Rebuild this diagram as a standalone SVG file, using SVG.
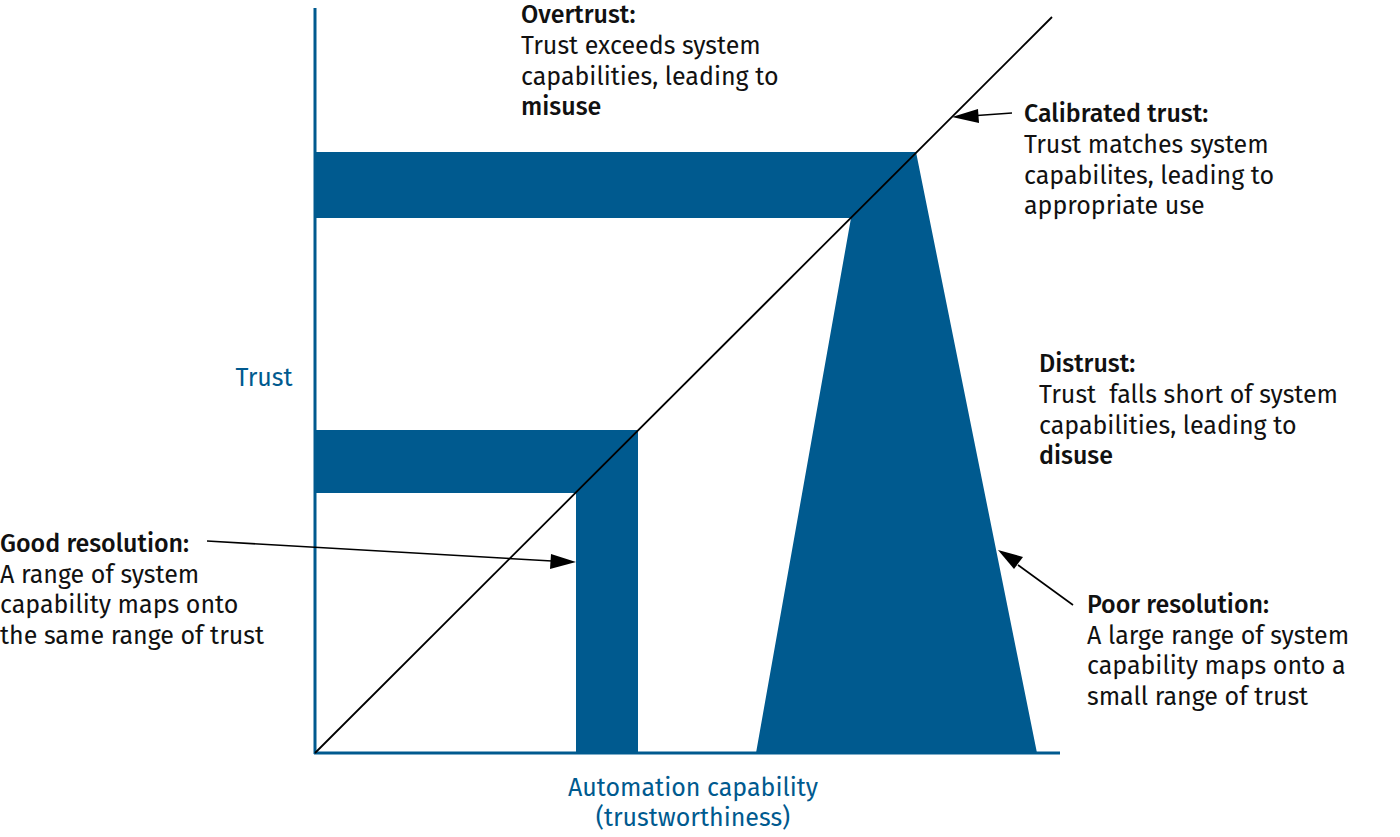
<svg xmlns="http://www.w3.org/2000/svg" width="1400" height="837" viewBox="0 0 1400 837">
<style>
text{font-family:"Fira Sans","Open Sans","Noto Sans",sans-serif;font-size:25px;fill:#111}
.b{font-weight:500}
.ax{fill:#005a8f;font-size:25px}
.blue{fill:#005a8f}
.axis{stroke:#005a8f;stroke-width:3;fill:none}
.conn{stroke:#000;stroke-width:1.6;fill:none}
</style>
<g id="shapes">
<polygon class="blue" points="315,152 916,152 1037,753 756,753 851,218 315,218"/>
<polygon class="blue" points="315,430 638,430 638,753 576,753 576,493 315,493"/>
</g>
<g id="axes">
<line class="axis" x1="315" y1="8" x2="315" y2="754"/>
<line class="axis" x1="314" y1="753" x2="1060" y2="753"/>
</g>
<g id="connectors">
<line x1="315" y1="753" x2="1052" y2="17" stroke="#000" stroke-width="1.8"/>
<path class="conn" d="M1012,113 L977,115.5" />
<polygon points="952,117 978,109 979,123" fill="#000"/>
<path class="conn" d="M207,541 L552,561"/>
<polygon points="576,562 551,554 550,569" fill="#000"/>
<path class="conn" d="M1073,605 L1018,565"/>
<polygon points="998,550 1023,557 1014,569" fill="#000"/>
</g>
<g id="overtrust">
<text x="521" y="23" class="b">Overtrust:</text>
<text x="521" y="54">Trust exceeds system</text>
<text x="521" y="85">capabilities, leading to</text>
<text x="521" y="115" class="b">misuse</text>
</g>
<g id="calibrated">
<text x="1024" y="122" class="b">Calibrated trust:</text>
<text x="1024" y="153">Trust matches system</text>
<text x="1024" y="184">capabilites, leading to</text>
<text x="1024" y="214">appropriate use</text>
</g>
<g id="distrust">
<text x="1039" y="372" class="b">Distrust:</text>
<text x="1039" y="403" xml:space="preserve">Trust  falls short of system</text>
<text x="1039" y="434">capabilities, leading to</text>
<text x="1039" y="464" class="b">disuse</text>
</g>
<g id="good">
<text x="0" y="552" class="b">Good resolution:</text>
<text x="0" y="583">A range of system</text>
<text x="0" y="613">capability maps onto</text>
<text x="0" y="644">the same range of trust</text>
</g>
<g id="poor">
<text x="1087" y="613" class="b">Poor resolution:</text>
<text x="1087" y="644">A large range of system</text>
<text x="1087" y="674">capability maps onto a</text>
<text x="1087" y="705">small range of trust</text>
</g>
<g id="labels">
<text x="264" y="386" class="ax" text-anchor="middle">Trust</text>
<text x="693" y="796" class="ax" text-anchor="middle">Automation capability</text>
<text x="693" y="826" class="ax" text-anchor="middle">(trustworthiness)</text>
</g>
</svg>
